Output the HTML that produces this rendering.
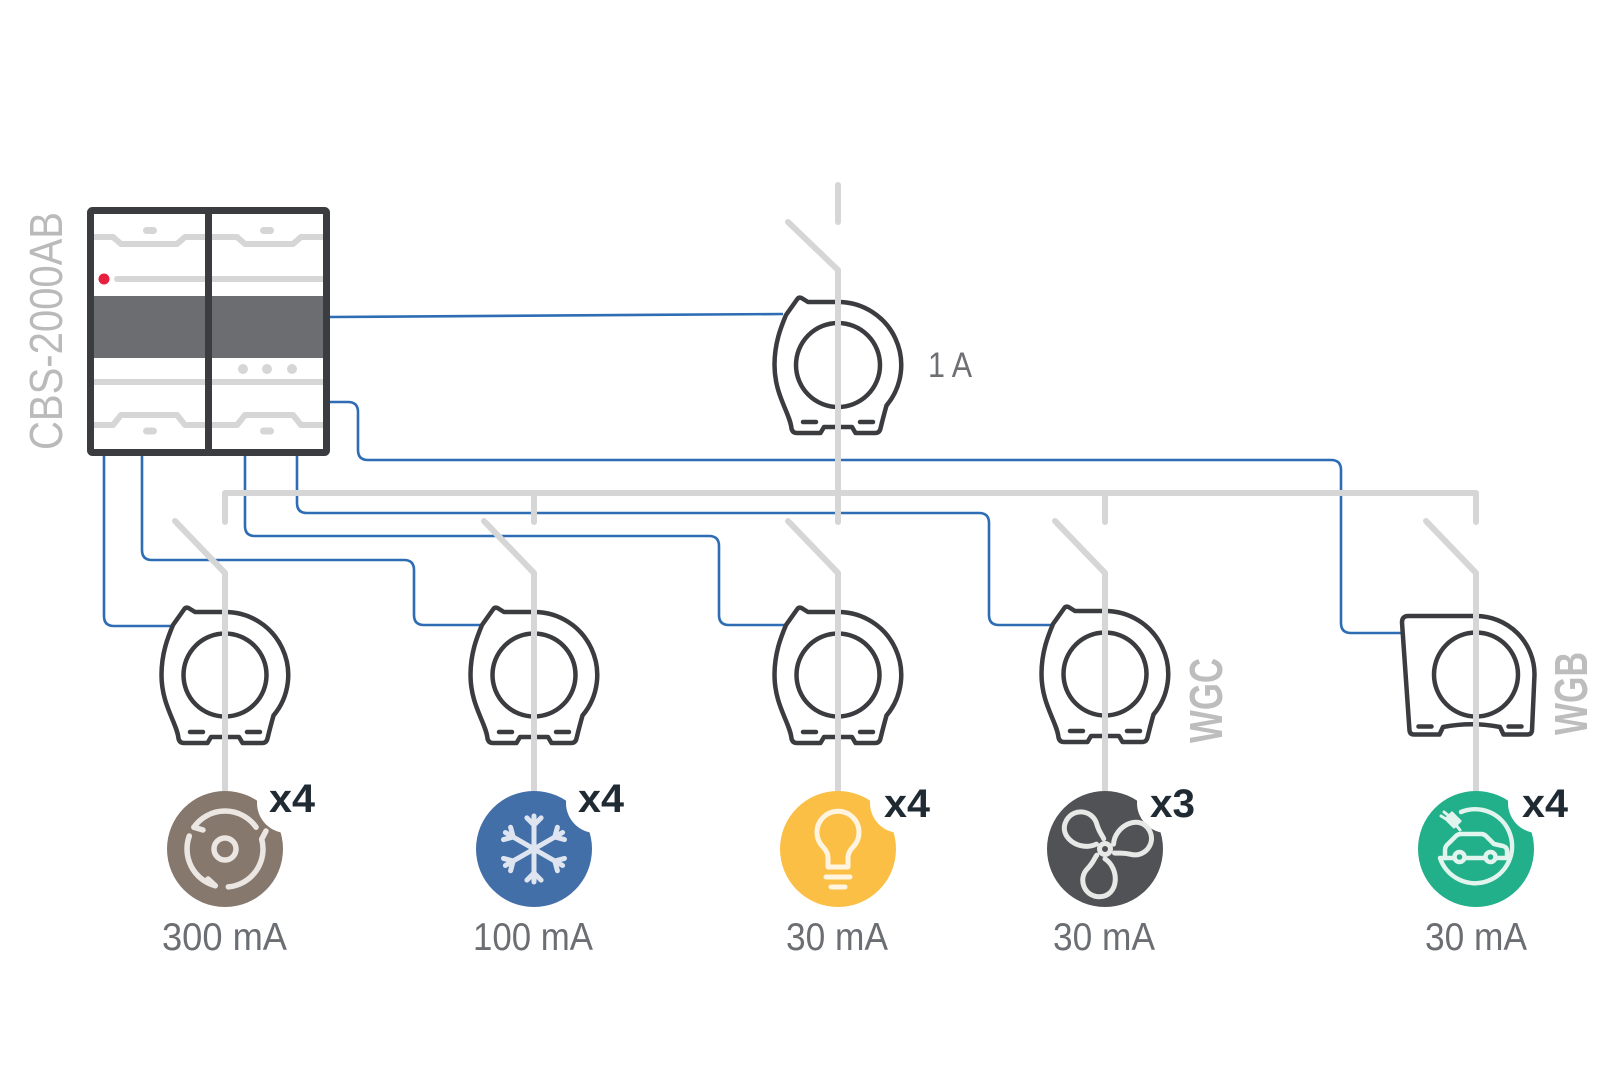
<!DOCTYPE html>
<html>
<head>
<meta charset="utf-8">
<style>
html,body{margin:0;padding:0;background:#fff;}
svg{display:block;}
text{font-family:"Liberation Sans",sans-serif;}
</style>
</head>
<body>
<svg width="1620" height="1080" viewBox="0 0 1620 1080" xmlns="http://www.w3.org/2000/svg">
<rect width="1620" height="1080" fill="#fff"/>

<!-- Blue control wires -->
<g fill="none" stroke="#2e6db4" stroke-width="2.6">
  <path d="M330,317 L783,314"/>
  <path d="M104,456 V616 Q104,626 114,626 H173"/>
  <path d="M142,456 V550 Q142,560 152,560 H404 Q414,560 414,570 V615 Q414,625 424,625 H480"/>
  <path d="M245,456 V526 Q245,536 255,536 H709 Q719,536 719,546 V615 Q719,625 729,625 H786"/>
  <path d="M297,456 V503 Q297,513 307,513 H979 Q989,513 989,523 V615 Q989,625 999,625 H1052"/>
  <path d="M330,402 H348 Q358,402 358,412 V450 Q358,460 368,460 H1331 Q1341,460 1341,470 V623 Q1341,633 1351,633 H1402"/>
</g>

<!-- Breakers -->
<g fill="none" stroke="#3b3c40" stroke-width="4.5" stroke-linejoin="round" stroke-linecap="round">
  <g transform="translate(838,365)">
    <path d="M-52,-50 L-41,-65.5 Q-39.5,-68 -36.5,-67 L-30,-63 L0,-63 A63,63 0 0 1 48.5,40.5 Q45,53 42.5,63.5 Q41.5,68 37,68 L17.5,68 L14,62 L-14,62 L-17.5,68 L-41,68 Q-45.5,68 -46.5,63.5 C-48,48 -63.5,30 -63.5,0 C-63.5,-22 -57,-38 -52,-50 Z"/>
    <circle cx="0" cy="0" r="42"/>
    <path d="M-35,57 H-22 M22,57 H35"/>
  </g>
  <g transform="translate(225,675)">
    <path d="M-52,-50 L-41,-65.5 Q-39.5,-68 -36.5,-67 L-30,-63 L0,-63 A63,63 0 0 1 48.5,40.5 Q45,53 42.5,63.5 Q41.5,68 37,68 L17.5,68 L14,62 L-14,62 L-17.5,68 L-41,68 Q-45.5,68 -46.5,63.5 C-48,48 -63.5,30 -63.5,0 C-63.5,-22 -57,-38 -52,-50 Z"/>
    <circle cx="0" cy="0" r="41.5"/>
    <path d="M-35,57 H-22 M22,57 H35"/>
  </g>
  <g transform="translate(534,675)">
    <path d="M-52,-50 L-41,-65.5 Q-39.5,-68 -36.5,-67 L-30,-63 L0,-63 A63,63 0 0 1 48.5,40.5 Q45,53 42.5,63.5 Q41.5,68 37,68 L17.5,68 L14,62 L-14,62 L-17.5,68 L-41,68 Q-45.5,68 -46.5,63.5 C-48,48 -63.5,30 -63.5,0 C-63.5,-22 -57,-38 -52,-50 Z"/>
    <circle cx="0" cy="0" r="41.5"/>
    <path d="M-35,57 H-22 M22,57 H35"/>
  </g>
  <g transform="translate(838,675)">
    <path d="M-52,-50 L-41,-65.5 Q-39.5,-68 -36.5,-67 L-30,-63 L0,-63 A63,63 0 0 1 48.5,40.5 Q45,53 42.5,63.5 Q41.5,68 37,68 L17.5,68 L14,62 L-14,62 L-17.5,68 L-41,68 Q-45.5,68 -46.5,63.5 C-48,48 -63.5,30 -63.5,0 C-63.5,-22 -57,-38 -52,-50 Z"/>
    <circle cx="0" cy="0" r="41.5"/>
    <path d="M-35,57 H-22 M22,57 H35"/>
  </g>
  <g transform="translate(1105,674)">
    <path d="M-52,-50 L-41,-65.5 Q-39.5,-68 -36.5,-67 L-30,-63 L0,-63 A63,63 0 0 1 48.5,40.5 Q45,53 42.5,63.5 Q41.5,68 37,68 L17.5,68 L14,62 L-14,62 L-17.5,68 L-41,68 Q-45.5,68 -46.5,63.5 C-48,48 -63.5,30 -63.5,0 C-63.5,-22 -57,-38 -52,-50 Z"/>
    <circle cx="0" cy="0" r="41.5"/>
    <path d="M-35,57 H-22 M22,57 H35"/>
  </g>
  <g transform="translate(1476,674.5)">
    <path d="M-68,-58.5 H0 A58.5,58.5 0 0 1 58.5,0 L56,56 Q55.5,60 51.5,60 H27.5 L24,52.5 Q-4,47 -33,52.5 L-36.5,60 H-62 Q-66,60 -66.5,56 L-74,-52 Q-74,-58.5 -68,-58.5 Z"/>
    <circle cx="0" cy="0" r="42"/>
    <path d="M-57.5,52 H-44.5 M32.5,52 H45.5"/>
  </g>
</g>

<!-- Grey power lines -->
<g fill="none" stroke="#d6d6d6" stroke-width="6" stroke-linecap="round" stroke-linejoin="round">
  <path d="M838,185 V222"/>
  <path d="M788,222 L838,270 V522"/>
  <path d="M225,522 V493 H1476 V522"/>
  <path d="M534,493 V522"/>
  <path d="M1105,493 V522"/>
  <path d="M175,521 L225,573 V800"/>
  <path d="M484,521 L534,573 V800"/>
  <path d="M788,521 L838,573 V800"/>
  <path d="M1055,521 L1105,573 V800"/>
  <path d="M1426,521 L1476,573 V800"/>
</g>

<!-- CBS box -->
<g>
  <rect x="94" y="213" width="229" height="236" fill="#fff"/>
  <rect x="94" y="296" width="229" height="62" fill="#6b6d70"/>
  <g fill="none" stroke="#d6d6d6" stroke-width="6" stroke-linejoin="round">
    <path d="M94,237 H113 L121,244 H177 L185,237 H205"/>
    <path d="M212,237 H237 L245,244 H293 L301,237 H323"/>
    <path d="M94,425 H113 L121,415 H177 L185,425 H205"/>
    <path d="M212,425 H237 L245,415 H293 L301,425 H323"/>
    <path d="M94,382 H323"/>
    <path d="M212,279 H323"/>
  </g>
  <path d="M117,279 H205" stroke="#d6d6d6" stroke-width="6" stroke-linecap="round"/>
  <g fill="#d6d6d6">
    <rect x="143" y="227" width="14" height="7" rx="3.5"/>
    <rect x="260" y="227" width="14" height="7" rx="3.5"/>
    <rect x="143" y="427.5" width="14" height="7" rx="3.5"/>
    <rect x="260" y="427.5" width="14" height="7" rx="3.5"/>
    <circle cx="243" cy="369" r="5"/>
    <circle cx="267" cy="369" r="5"/>
    <circle cx="292" cy="369" r="5"/>
  </g>
  <circle cx="104" cy="279" r="5.5" fill="#e8203f"/>
  <rect x="90.5" y="210.5" width="236" height="242" rx="2" fill="none" stroke="#3b3c40" stroke-width="7"/>
  <path d="M208.5,211 V452" stroke="#3b3c40" stroke-width="7"/>
</g>

<!-- Labels -->
<text transform="translate(62,331) rotate(-90)" text-anchor="middle" font-size="46" fill="#bababa" textLength="238" lengthAdjust="spacingAndGlyphs">CBS-2000AB</text>
<text x="928" y="377" font-size="35" fill="#6d6f72" textLength="44" lengthAdjust="spacingAndGlyphs">1 A</text>
<text transform="translate(1222,700.5) rotate(-90)" text-anchor="middle" font-size="46" font-weight="bold" fill="#bdbdbd" textLength="85" lengthAdjust="spacingAndGlyphs">WGC</text>
<text transform="translate(1587,693.5) rotate(-90)" text-anchor="middle" font-size="46" font-weight="bold" fill="#bdbdbd" textLength="83" lengthAdjust="spacingAndGlyphs">WGB</text>

<!-- Icon circles -->
<circle cx="225" cy="849" r="58" fill="#86786d"/>
<circle cx="287" cy="803" r="30" fill="#fff"/>
<circle cx="534" cy="849" r="58" fill="#436fa9"/>
<circle cx="596" cy="803" r="30" fill="#fff"/>
<circle cx="838" cy="849" r="58" fill="#fbbf45"/>
<circle cx="900" cy="803" r="30" fill="#fff"/>
<circle cx="1105" cy="849" r="58" fill="#505256"/>
<circle cx="1167" cy="803" r="30" fill="#fff"/>
<circle cx="1476" cy="849" r="58" fill="#22b08a"/>
<circle cx="1538" cy="803" r="30" fill="#fff"/>

<!-- Icon 1: cycle -->
<g fill="none" stroke="#ebe6e2" stroke-width="5.5" stroke-linecap="round" stroke-linejoin="round">
  <circle cx="225" cy="849" r="11"/>
  <path d="M193.9,827.2 A38,38 0 0 1 256.1,827.2"/>
  <path d="M261.7,839.2 A38,38 0 0 1 228.3,886.9"/>
  <path d="M215.2,885.7 A38,38 0 0 1 189.3,836"/>
  <path d="M193.9,827.2 L203,830"/>
  <path d="M261.7,839.2 L266,831"/>
  <path d="M215.2,885.7 L208,879"/>
</g>

<!-- Icon 2: snowflake -->
<g fill="none" stroke="#dfe5f0" stroke-width="5" stroke-linecap="round" stroke-linejoin="round">
  <path d="M534,816 V882 M562.6,832.5 L505.4,865.5 M505.4,832.5 L562.6,865.5"/>
  <path d="M526.9,817.9 L534,825 L541.1,817.9"/>
  <path d="M557.4,827.3 L554.8,837 L564.5,839.6"/>
  <path d="M564.5,858.4 L554.8,861 L557.4,870.7"/>
  <path d="M541.1,880.1 L534,873 L526.9,880.1"/>
  <path d="M510.6,870.7 L513.2,861 L503.5,858.4"/>
  <path d="M503.5,839.6 L513.2,837 L510.6,827.3"/>
</g>

<!-- Icon 3: bulb -->
<g fill="none" stroke="#fef4e0" stroke-width="5" stroke-linecap="round" stroke-linejoin="round">
  <path d="M828,867 V858 Q828,852 823,847 A21,21 0 1 1 853,847 Q848,852 848,858 V867 Z"/>
  <path d="M826,877 H850 M831,887 H845"/>
</g>

<!-- Icon 4: fan -->
<g fill="none" stroke="#e8e8e6" stroke-width="5" stroke-linecap="round" stroke-linejoin="round">
  <circle cx="1105" cy="849" r="5.5"/>
  <g transform="translate(1105,849)">
    <path transform="rotate(-6)" d="M9,-4 C12,-22 38,-32 46,-14 C52,0 38,13 25,8 C17,5 13,6 9,5"/>
    <path transform="rotate(114)" d="M9,-4 C12,-22 38,-32 46,-14 C52,0 38,13 25,8 C17,5 13,6 9,5"/>
    <path transform="rotate(234)" d="M9,-4 C12,-22 38,-32 46,-14 C52,0 38,13 25,8 C17,5 13,6 9,5"/>
  </g>
</g>

<!-- Icon 5: EV -->
<g fill="none" stroke="#e2f4ee" stroke-width="4.5" stroke-linecap="round" stroke-linejoin="round">
  <path d="M1461,812 A37,37 0 1 1 1440,858 H1507"/>
  <path d="M1445,858 V850 Q1445,846 1449,843 L1456,836 Q1458,834 1461,834 H1481 Q1484,834 1486,836 L1494,844 L1503,846 Q1507,847 1507,851 V858"/>
  <circle cx="1459.5" cy="857" r="5" fill="#22b08a"/>
  <circle cx="1490.5" cy="857" r="5" fill="#22b08a"/>
  <path d="M1446,819 L1452,813 L1460,821 L1454,827 Z" fill="#e2f4ee" stroke-width="3"/>
  <path d="M1446,819 L1441,816 M1449,816 L1444,812" stroke-width="3"/>
  <path d="M1456,825 L1460,830" stroke-width="3"/>
</g>

<!-- Multipliers -->
<g font-size="40" font-weight="bold" fill="#1f2a33">
  <text x="269" y="812" textLength="46" lengthAdjust="spacingAndGlyphs">x4</text>
  <text x="578" y="812" textLength="46" lengthAdjust="spacingAndGlyphs">x4</text>
  <text x="884" y="817" textLength="46" lengthAdjust="spacingAndGlyphs">x4</text>
  <text x="1150" y="817" textLength="45" lengthAdjust="spacingAndGlyphs">x3</text>
  <text x="1522" y="817" textLength="46" lengthAdjust="spacingAndGlyphs">x4</text>
</g>

<!-- Current labels -->
<g font-size="39" fill="#6b6e72" text-anchor="middle">
  <text x="224.5" y="950" textLength="125" lengthAdjust="spacingAndGlyphs">300 mA</text>
  <text x="533" y="950" textLength="120" lengthAdjust="spacingAndGlyphs">100 mA</text>
  <text x="837" y="950" textLength="102" lengthAdjust="spacingAndGlyphs">30 mA</text>
  <text x="1104" y="950" textLength="102" lengthAdjust="spacingAndGlyphs">30 mA</text>
  <text x="1476" y="950" textLength="102" lengthAdjust="spacingAndGlyphs">30 mA</text>
</g>
</svg>
</body>
</html>
